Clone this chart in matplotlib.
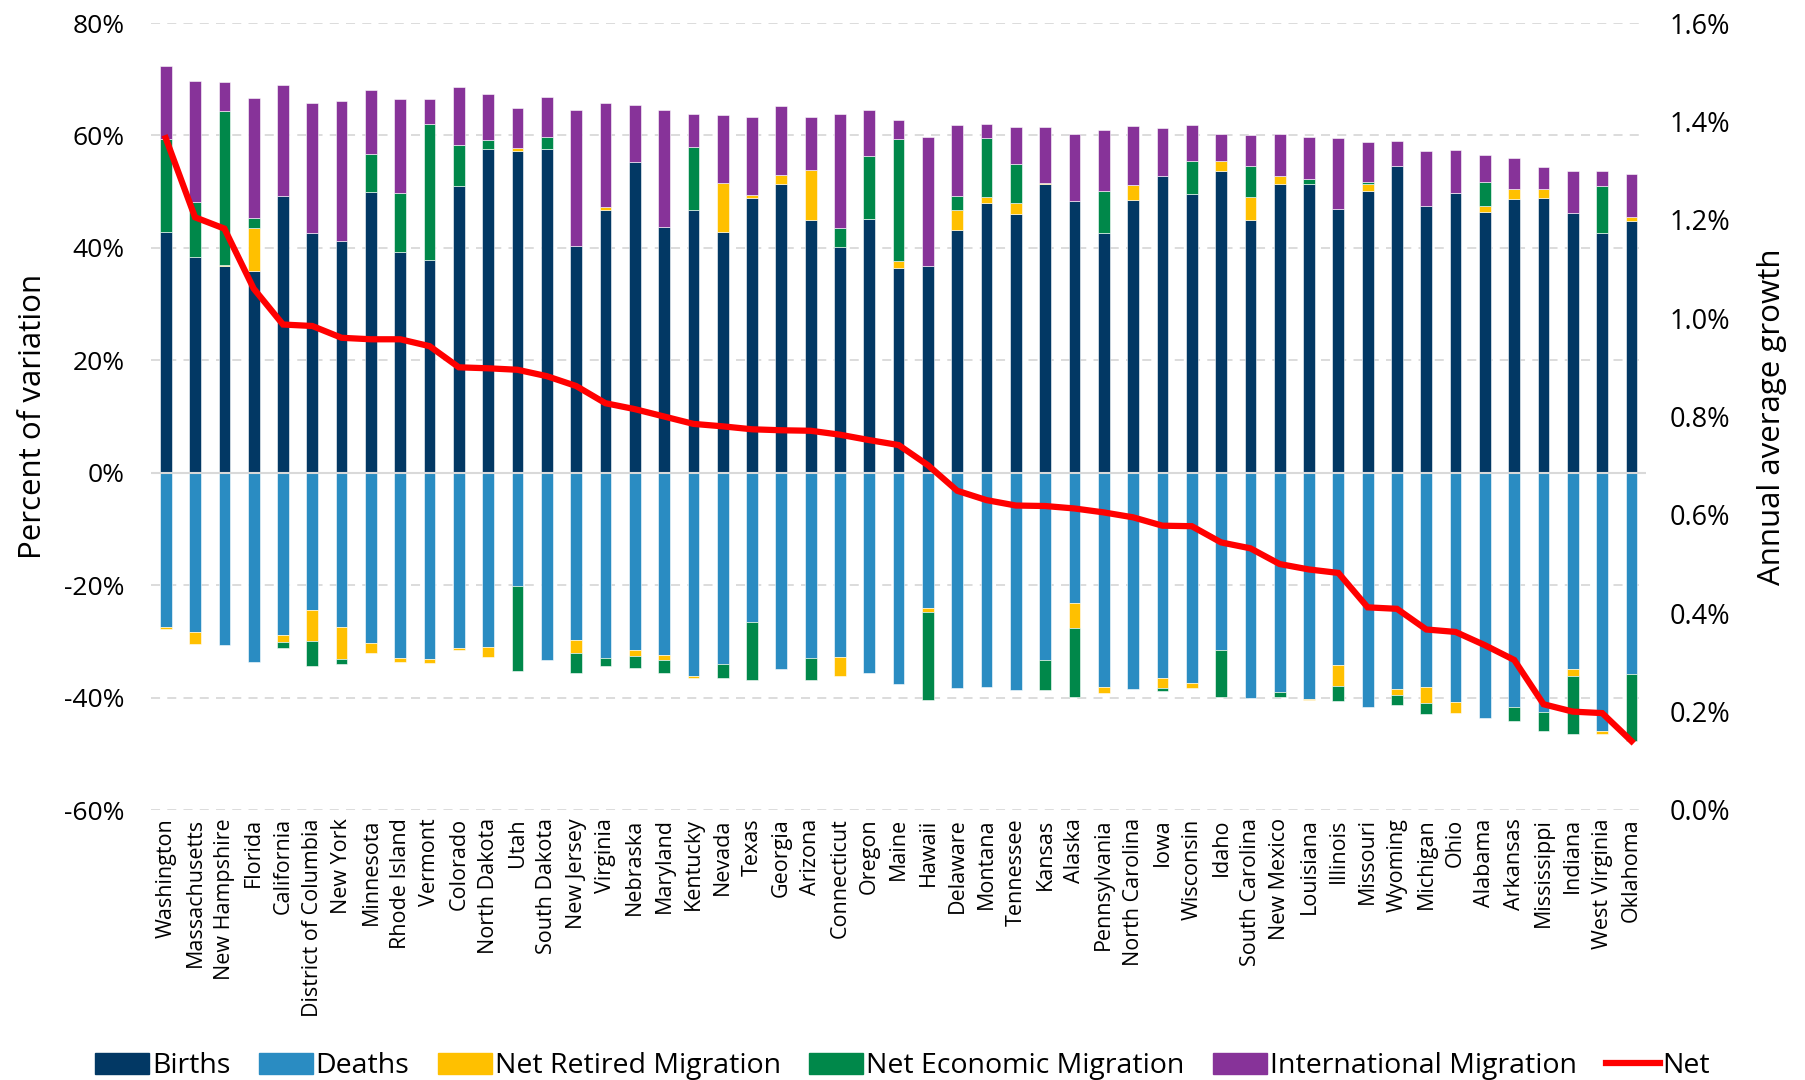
import numpy as np
import matplotlib.pyplot as plt
from matplotlib.lines import Line2D
from matplotlib.patches import Patch

plt.rcParams['font.family'] = ['Open Sans', 'DejaVu Sans']

states = ['Washington', 'Massachusetts', 'New Hampshire', 'Florida', 'California',
          'District of Columbia', 'New York', 'Minnesota', 'Rhode Island', 'Vermont',
          'Colorado', 'North Dakota', 'Utah', 'South Dakota', 'New Jersey', 'Virginia',
          'Nebraska', 'Maryland', 'Kentucky', 'Nevada', 'Texas', 'Georgia', 'Arizona',
          'Connecticut', 'Oregon', 'Maine', 'Hawaii', 'Delaware', 'Montana', 'Tennessee',
          'Kansas', 'Alaska', 'Pennsylvania', 'North Carolina', 'Iowa', 'Wisconsin',
          'Idaho', 'South Carolina', 'New Mexico', 'Louisiana', 'Illinois', 'Missouri',
          'Wyoming', 'Michigan', 'Ohio', 'Alabama', 'Arkansas', 'Mississippi', 'Indiana',
          'West Virginia', 'Oklahoma']

# components of population change, percent of variation
births = [42.9, 38.3, 36.7, 35.9, 49.3, 42.7, 41.3, 50.0, 39.2, 37.9,
          51.0, 57.6, 57.2, 57.5, 40.4, 46.8, 55.2, 43.7, 46.7, 42.9,
          48.8, 51.4, 45.0, 40.2, 45.2, 36.5, 36.7, 43.2, 48.0, 46.1,
          51.3, 48.4, 42.7, 48.5, 52.8, 49.6, 53.7, 45.0, 51.4, 51.4,
          47.0, 50.2, 54.6, 47.4, 49.8, 46.4, 48.7, 48.9, 46.2, 42.6, 44.8]
deaths = [-27.5, -28.3, -30.7, -33.6, -28.8, -24.4, -27.5, -30.3, -33.0, -33.2,
          -31.2, -31.0, -20.1, -33.3, -29.7, -33.0, -31.6, -32.4, -36.2, -34.1,
          -26.6, -34.9, -33.0, -32.8, -35.6, -37.5, -24.0, -38.3, -38.1, -38.7,
          -33.3, -23.2, -38.1, -38.4, -36.5, -37.4, -31.5, -40.1, -39.0, -40.3,
          -34.2, -41.7, -38.5, -38.2, -40.8, -43.6, -41.7, -42.5, -34.9, -46.0, -35.8]
retired = [-0.3, -2.2, 0.3, 7.6, -1.4, -5.5, -5.6, -1.8, -0.7, -0.6,
           -0.4, -1.8, 0.5, 0.0, -2.4, 0.5, -1.0, -0.9, -0.3, 8.7,
           0.6, 1.6, 8.9, -3.4, 0.0, 1.1, -0.7, 3.6, 1.1, 1.8,
           0.2, -4.4, -1.0, 2.6, -1.8, -0.9, 1.8, 4.1, 1.4, -0.2,
           -3.8, 1.2, -1.1, -2.8, -2.0, 1.1, 1.8, 1.6, -1.3, -0.5, 0.7]
economic = [16.5, 9.9, 27.3, 1.8, -1.0, -4.5, -0.9, 6.7, 10.6, 24.1,
            7.3, 1.5, -15.2, 2.3, -3.5, -1.4, -2.1, -2.4, 11.2, -2.4,
            -10.3, 0.0, -3.8, 3.4, 11.2, 21.7, -15.7, 2.4, 10.4, 7.1,
            -5.3, -12.3, 7.5, 0.0, -0.5, 5.8, -8.4, 5.4, -0.9, 0.9,
            -2.6, 0.3, -1.7, -2.0, 0.0, 4.3, -2.5, -3.4, -10.3, 8.4, -11.9]
international = [13.0, 21.4, 5.2, 21.3, 19.6, 23.1, 24.9, 11.4, 16.7, 4.4,
                 10.3, 8.3, 7.1, 7.1, 24.1, 18.5, 10.3, 20.8, 5.9, 12.1,
                 13.8, 12.2, 9.4, 20.3, 8.1, 3.4, 23.1, 12.7, 2.5, 6.5,
                 10.0, 11.9, 10.8, 10.6, 8.5, 6.5, 4.8, 5.5, 7.4, 7.4,
                 12.6, 7.1, 4.4, 9.8, 7.6, 4.7, 5.5, 3.8, 7.5, 2.7, 7.6]
# annual average growth, percent
net = [1.366, 1.205, 1.182, 1.060, 0.987, 0.984, 0.960, 0.957, 0.957, 0.943,
       0.900, 0.898, 0.895, 0.882, 0.862, 0.827, 0.815, 0.800, 0.785, 0.780,
       0.774, 0.772, 0.771, 0.763, 0.752, 0.742, 0.701, 0.649, 0.630, 0.619,
       0.618, 0.613, 0.605, 0.595, 0.578, 0.577, 0.544, 0.532, 0.500, 0.489,
       0.482, 0.412, 0.409, 0.367, 0.362, 0.335, 0.305, 0.215, 0.200, 0.197, 0.140]

c_births = '#023864'
c_deaths = '#2a8cc2'
c_retired = '#ffc000'
c_econ = '#00884a'
c_intl = '#873399'
c_net = '#ff0000'

fig = plt.figure(figsize=(18.05, 10.8), dpi=100)
ax = fig.add_axes([0.0837, 0.25, 0.8283, 0.7287])
x = np.arange(len(states))
w = 0.4
edge = dict(edgecolor='white', linewidth=0.4)

ax.bar(x, births, w, color=c_births, **edge)
ax.bar(x, deaths, w, color=c_deaths, **edge)
pos = np.array(births, dtype=float)
neg = np.array(deaths, dtype=float)
for vals, col in [(retired, c_retired), (economic, c_econ)]:
    v = np.array(vals)
    bottom = np.where(v >= 0, pos, neg)
    ax.bar(x, v, w, bottom=bottom, color=col, **edge)
    pos = pos + np.clip(v, 0, None)
    neg = neg + np.clip(v, None, 0)
ax.bar(x, international, w, bottom=pos, color=c_intl, **edge)

ax.set_xlim(-0.5, len(states) - 0.5)
ax.set_ylim(-60, 80)
ax.set_yticks(np.arange(-60, 81, 20))
ax.set_yticklabels([f'{t}%' for t in range(-60, 81, 20)], fontsize=19)
ax.set_xticks(x)
ax.set_xticklabels(states, rotation=90, fontsize=15.5)
ax.tick_params(axis='x', length=0, pad=6)
ax.tick_params(axis='y', length=0, pad=19)
ax.yaxis.grid(True, color='#d9d9d9', linestyle=(0, (5, 4)), linewidth=1.3)
ax.axhline(0, color='#d9d9d9', linewidth=1.5, zorder=1)
ax.set_axisbelow(True)
for s in ax.spines.values():
    s.set_visible(False)
ax.set_ylabel('Percent of variation', fontsize=22.5, labelpad=12)

ax2 = ax.twinx()
ax2.plot(x, net, color=c_net, linewidth=4.5, solid_joinstyle='miter')
ax2.set_ylim(0, 1.6)
ax2.set_yticks(np.arange(0, 1.61, 0.2))
ax2.set_yticklabels([f'{t:.1f}%' for t in np.arange(0, 1.61, 0.2)], fontsize=19.5)
ax2.tick_params(length=0, pad=17)
for s in ax2.spines.values():
    s.set_visible(False)
ax2.set_ylabel('Annual average growth', fontsize=22.5, labelpad=19)

handles = [Patch(color=c_births, label='Births'),
           Patch(color=c_deaths, label='Deaths'),
           Patch(color=c_retired, label='Net Retired Migration'),
           Patch(color=c_econ, label='Net Economic Migration'),
           Patch(color=c_intl, label='International Migration'),
           Line2D([], [], color=c_net, linewidth=4.5, label='Net')]
fig.legend(handles=handles, loc='lower center', bbox_to_anchor=(0.5, -0.024), ncol=6,
           frameon=False, fontsize=20.5, handlelength=1.9, handleheight=0.75,
           handletextpad=0.1, columnspacing=1.0)

fig.savefig('out.png', dpi=100)
